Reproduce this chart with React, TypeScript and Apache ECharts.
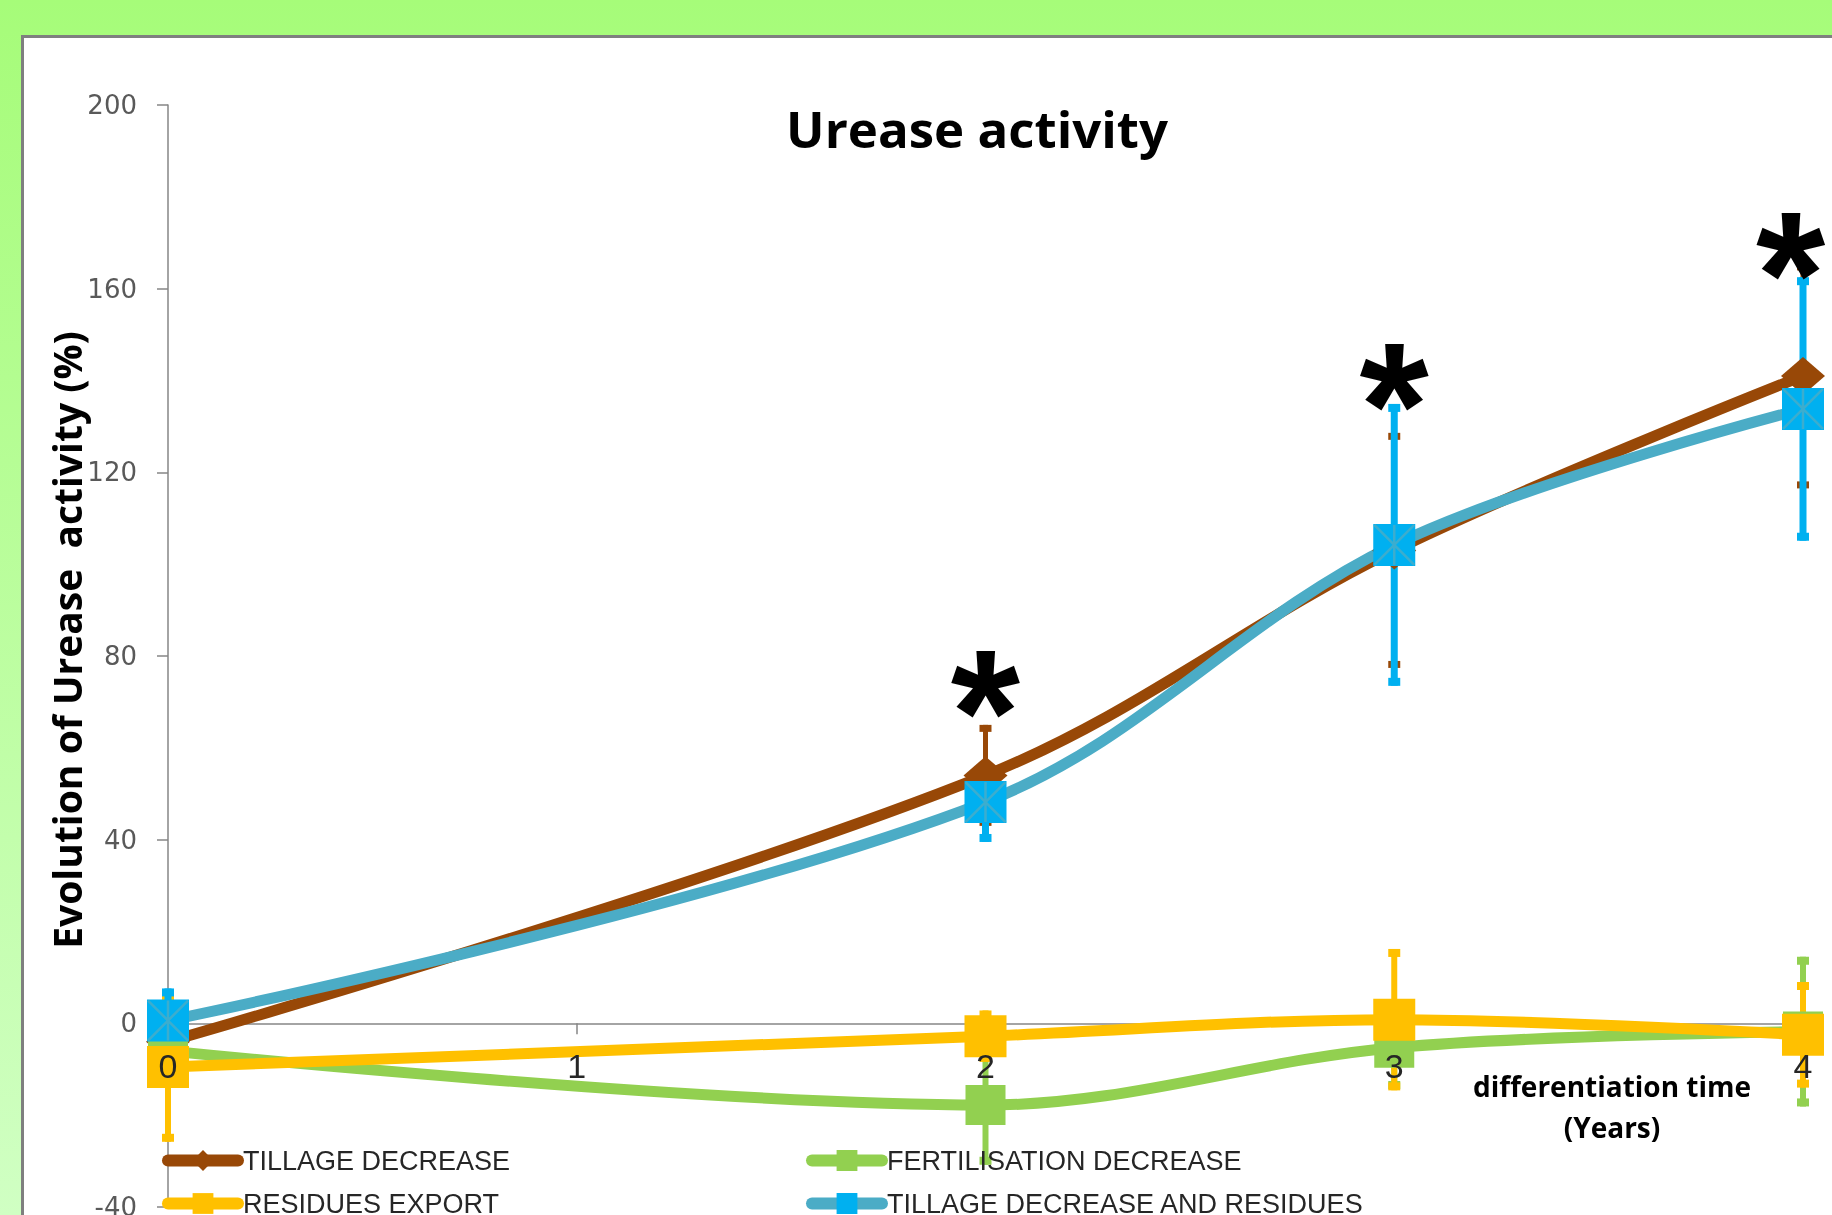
import React, { useEffect, useRef } from "react";
import * as echarts from "echarts";

// ---- data ----
const years = [0, 2, 3, 4];
const seriesNames = [
  "TILLAGE DECREASE",
  "FERTILISATION DECREASE",
  "RESIDUES EXPORT",
  "TILLAGE DECREASE AND RESIDUES",
];
const tillageDecrease = [-4, 54, 103, 141];
const tillageDecreaseErr = [3, 11, 25.6, 24.5];
const fertilisationDecrease = [-6, -17.8, -5.3, -1.8];
const fertilisationDecreaseErr = [3, 13, 9, 16.3];
const residuesExport = [-9.5, -2.8, 0.8, -2.5];
const residuesExportErr = [16.3, 5.6, 15.4, 11.5];
const tillageAndResidues = [0.6, 48.2, 104.2, 133.8];
const tillageAndResiduesErr = [7, 8.7, 30.7, 28.7];
const starYears = [2, 3, 3.97];
const starValues = [74.3, 141.1, 169.6];
const yMin = -40;
const yMax = 200;
const yInterval = 40;
const xMin = 0;
const xMax = 4;
const xInterval = 1;
const titleText = "Urease activity";
const yAxisTitle = "Evolution of Urease  activity (%)";
const xAxisTitle = "differentiation time\n(Years)";

// ---- layout ----
const W = 1832;
const H = 1215;
const GRID = { left: 168, right: 29, top: 105, bottom: 8 };
const gridHeight = H - GRID.top - GRID.bottom;
// the label-only x axis sits where the value 0 lies on the y scale
const zeroOffset = -((0 - yMin) / (yMax - yMin)) * gridHeight;

// ---- styles ----
const BROWN = "#984807";
const GREEN = "#92D050";
const YELLOW = "#FFC000";
const BLUE_LINE = "#4BACC6";
const BLUE_MARK = "#00B0F0";
const NARROW = "'Liberation Sans Narrow', 'Arial Narrow', 'Liberation Sans', sans-serif";

function errorSeries(name: string, values: number[], errs: number[], color: string, lw: number, capW: number, capH: number) {
  return {
    type: "custom",
    name: name + " error",
    silent: true,
    z: 1,
    clip: false,
    data: years.map((x, i) => [x, values[i] - errs[i], values[i] + errs[i]]),
    encode: { x: 0, y: [1, 2] },
    renderItem: (_params: any, api: any) => {
      const x = api.value(0);
      const lo = api.coord([x, api.value(1)]);
      const hi = api.coord([x, api.value(2)]);
      return {
        type: "group",
        children: [
          { type: "line", shape: { x1: hi[0], y1: hi[1], x2: lo[0], y2: lo[1] }, style: { stroke: color, lineWidth: lw } },
          { type: "rect", shape: { x: hi[0] - capW / 2, y: hi[1], width: capW, height: capH }, style: { fill: color } },
          { type: "rect", shape: { x: lo[0] - capW / 2, y: lo[1] - capH, width: capW, height: capH }, style: { fill: color } },
        ],
      };
    },
  };
}

function lineSeries(name: string, values: number[], lineColor: string, markColor: string, symbol: string, size: any) {
  return {
    type: "line",
    name,
    smooth: 0.35,
    data: years.map((x, i) => [x, values[i]]),
    symbol,
    symbolSize: size,
    showAllSymbol: true,
    lineStyle: { color: lineColor, width: 11, cap: "round" },
    itemStyle: { color: markColor, borderWidth: 0 },
    z: 2,
  };
}

export default function App() {
  const ref = useRef<HTMLDivElement>(null);
  useEffect(() => {
    const chart = echarts.init(ref.current!, null, { renderer: "svg" });
    const legendText = { fontFamily: NARROW, fontSize: 27, color: "#262626", lineHeight: 26 };
    const option: any = {
      animation: false,
      graphic: [
        {
          type: "rect",
          z: -10,
          silent: true,
          shape: { x: 0, y: 0, width: W, height: H },
          style: {
            fill: new echarts.graphic.LinearGradient(0, 0, 0, 1, [
              { offset: 0, color: "#a6fc79" },
              { offset: 1, color: "#d0ffc3" },
            ]),
          },
        },
        {
          type: "rect",
          z: -9,
          silent: true,
          shape: { x: 22.5, y: 36.5, width: 1900, height: 1300 },
          style: { fill: "#ffffff", stroke: "#7f7f7f", lineWidth: 3 },
        },
      ],
      title: {
        text: titleText,
        left: 972,
        top: 97,
        textAlign: "center",
        textStyle: { fontFamily: "'Open Sans'", fontWeight: "bold", fontSize: 51, color: "#000" },
      },
      legend: [
        {
          data: [seriesNames[0], seriesNames[2]],
          orient: "vertical",
          left: 157,
          top: 1142,
          height: 200,
          itemWidth: 70,
          itemHeight: 26,
          itemGap: 16,
          textStyle: legendText,
          lineStyle: { width: 12, cap: "round" },
        },
        {
          data: [seriesNames[1], seriesNames[3]],
          orient: "vertical",
          left: 801,
          top: 1142,
          height: 200,
          itemWidth: 70,
          itemHeight: 26,
          itemGap: 16,
          textStyle: legendText,
          lineStyle: { width: 12, cap: "round" },
        },
      ],
      grid: { ...GRID, containLabel: false, outerBoundsMode: "none" },
      xAxis: [
        {
          type: "value",
          min: xMin,
          max: xMax,
          interval: xInterval,
          position: "bottom",
          axisLine: { show: true, onZero: true, lineStyle: { color: "#868686", width: 1.5 } },
          axisTick: { show: true, length: 11, lineStyle: { color: "#868686", width: 1.5 } },
          axisLabel: { show: false },
          splitLine: { show: false },
          name: xAxisTitle,
          nameLocation: "end",
          nameGap: -191,
          nameTextStyle: {
            fontFamily: "'Open Sans'",
            fontWeight: "bold",
            fontSize: 28,
            color: "#000",
            align: "center",
            verticalAlign: "top",
            lineHeight: 41,
            padding: [42, 0, 0, 0],
          },
        },
        {
          type: "value",
          min: xMin,
          max: xMax,
          interval: xInterval,
          position: "bottom",
          offset: zeroOffset,
          z: 10,
          axisLine: { show: false, onZero: false },
          axisTick: { show: false },
          axisLabel: { fontFamily: NARROW, fontSize: 34, color: "#262626", margin: 26 },
          splitLine: { show: false },
        },
      ],
      yAxis: {
        type: "value",
        min: yMin,
        max: yMax,
        interval: yInterval,
        position: "left",
        axisLine: { show: true, onZero: false, lineStyle: { color: "#868686", width: 1.5 } },
        axisTick: { show: true, length: 11, lineStyle: { color: "#868686", width: 1.5 } },
        splitLine: { show: false },
        axisLabel: { fontFamily: "'DejaVu Sans'", fontSize: 26, color: "#595959", margin: 31 },
        name: yAxisTitle,
        nameLocation: "middle",
        nameGap: 82,
        nameMoveOverlap: false,
        nameTextStyle: {
          fontFamily: "'Open Sans'",
          fontWeight: "bold",
          fontSize: 39,
          color: "#000",
          padding: [0, 0, 0, 32],
        },
      },
      series: [
        errorSeries(seriesNames[0], tillageDecrease, tillageDecreaseErr, BROWN, 5, 12, 7),
        errorSeries(seriesNames[1], fertilisationDecrease, fertilisationDecreaseErr, GREEN, 6, 12, 8),
        errorSeries(seriesNames[2], residuesExport, residuesExportErr, YELLOW, 6, 12, 8),
        errorSeries(seriesNames[3], tillageAndResidues, tillageAndResiduesErr, BLUE_MARK, 7, 12, 8),
        lineSeries(seriesNames[0], tillageDecrease, BROWN, BROWN, "diamond", [44, 38]),
        lineSeries(seriesNames[1], fertilisationDecrease, GREEN, GREEN, "rect", 40),
        lineSeries(seriesNames[2], residuesExport, YELLOW, YELLOW, "rect", 42),
        lineSeries(seriesNames[3], tillageAndResidues, BLUE_LINE, BLUE_MARK, "rect", 42),
        {
          type: "scatter",
          name: "x-marks",
          silent: true,
          z: 3,
          data: years.map((x, i) => [x, tillageAndResidues[i]]),
          symbol: "path://M0 0L10 10M10 0L0 10M5 0L5 10",
          symbolSize: 40,
          itemStyle: { color: "rgba(0,0,0,0)", borderColor: BLUE_LINE, borderWidth: 2.5 },
        },
        {
          type: "scatter",
          name: "significance",
          silent: true,
          z: 4,
          data: starYears.map((x, i) => [x, starValues[i]]),
          symbolSize: 1,
          itemStyle: { color: "rgba(0,0,0,0)" },
          label: {
            show: true,
            formatter: "*",
            position: "inside",
            fontFamily: "'Liberation Sans'",
            fontWeight: "bold",
            fontSize: 178,
            color: "#000000",
            opacity: 1,
            textBorderWidth: 0,
            offset: [0, 30],
          },
        },
      ],
    };
    chart.setOption(option);
    return () => chart.dispose();
  }, []);
  return <div ref={ref} style={{ position: "fixed", left: 0, top: 0, width: W, height: H }} />;
}
